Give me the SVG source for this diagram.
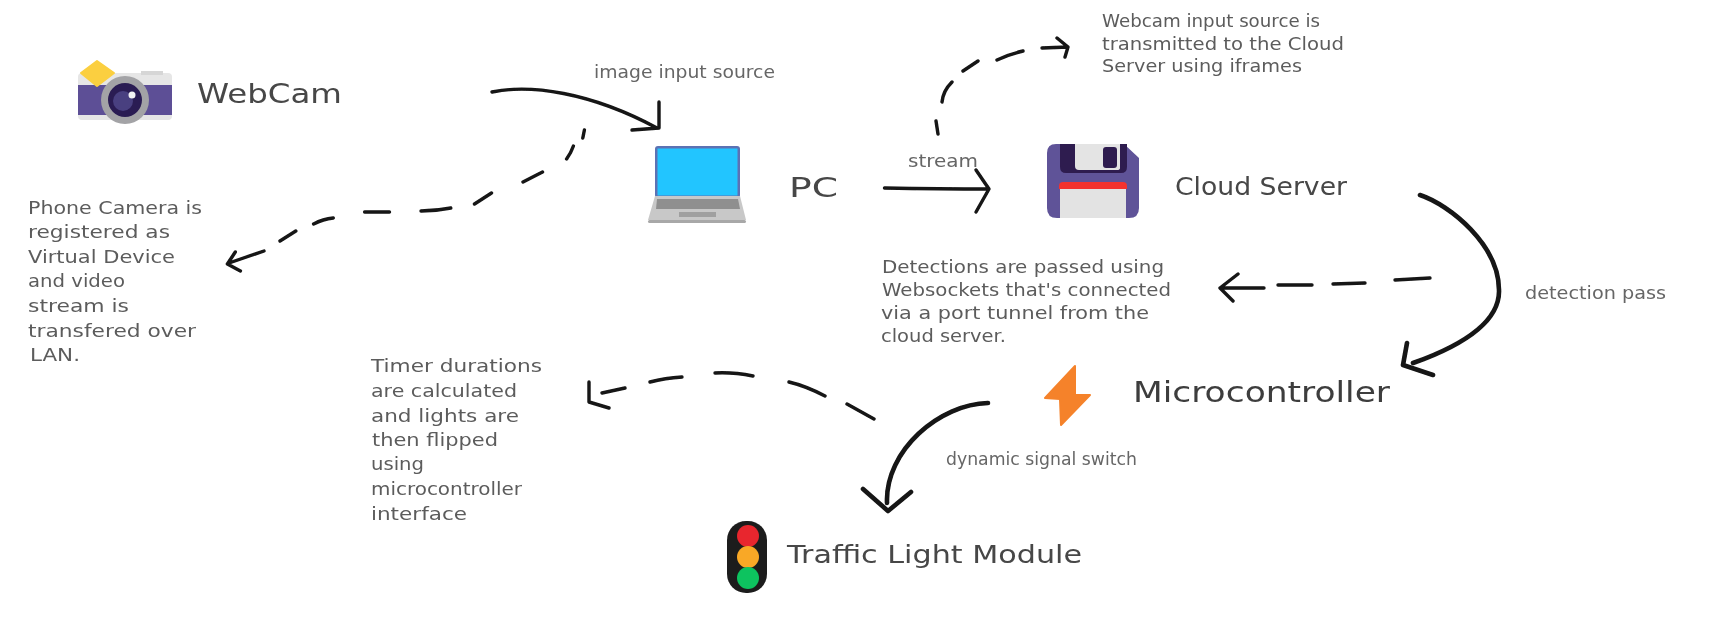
<svg xmlns="http://www.w3.org/2000/svg" width="1718" height="619" viewBox="0 0 1718 619">
<style>
text{font-family:"DejaVu Sans","Liberation Sans",sans-serif;font-weight:400}
.title{font-size:27px;fill:#474747}
.sub{font-size:17px;fill:#666}
.desc{font-size:18px;fill:#5c5c5c}
.solid,.dash{fill:none;stroke:#141414;stroke-linecap:round;stroke-linejoin:round}
.solid{stroke-width:3.4}
.heavy{stroke-width:4.6}
.dash{stroke-width:3.4}
.soft{filter:url(#b)}
</style>
<defs><filter id="b" x="-5%" y="-5%" width="110%" height="110%"><feGaussianBlur stdDeviation="0.55"/></filter></defs>
<rect width="1718" height="619" fill="#fff"/>
<g class="soft">
<g id="connectors">
<path id="c-webcam-pc" class="solid" d="M492 92C530 84 590 92 657 128M659 102L659 128L632 130"/>
<path id="c-phone" class="dash" d="M584.400 130L582.800 138M573.400 146Q571 153 566.600 159M542.500 172L523 182M491.500 193L474.500 204M450.800 208Q436 211 421 211M389.500 212L364.600 212M333.300 218Q323 219 313.600 224M295.800 231L280 241M264 251L229 263M235.300 252L227.400 264L240.400 271"/>
<path id="c-pc-cloud" class="solid" d="M884.500 188Q940 189 989 189M976 170L989 189L976 212"/>
<path id="c-iframes" class="dash" d="M938 134L936 121M942 102Q943 91 952 82M963 71L978 61M997 60Q1010 54 1023 51M1042 48L1068 47M1057 38L1068 47L1065 57"/>
<path id="c-detection" class="solid heavy" d="M1420 195C1450 205 1499 245 1499 290C1500 325 1455 348 1413 363M1407 343L1403 365L1433 375"/>
<path id="c-websocket" class="dash" d="M1430 278L1395 280M1365 283L1333 284M1312 285L1278 285M1264 288L1220 288M1238 274L1220 288L1233 301"/>
<path id="c-switch" class="solid heavy" d="M988 403C940 404 885 450 887 503M863 489L888 511L911 492"/>
<path id="c-timer" class="dash" d="M874 419L847 404M825 396Q806 386 789 382M753 376Q733 372 715 373M682 377Q665 378 650 382M625 388L602 393M589 382L589 402L609 408"/>
</g>
<g id="webcam">
<rect x="78" y="73" width="94" height="47" rx="4" fill="#e6e6e6"/>
<rect x="141" y="71" width="22" height="4" fill="#d6d6d6"/>
<rect x="78" y="85" width="94" height="30" fill="#5d5096"/>
<path d="M97 61L114 73L97 86L81 73Z" fill="#fbcf3f" stroke="#fbcf3f" stroke-width="2" stroke-linejoin="round"/>
<circle cx="125" cy="100" r="24" fill="#a3a3a6"/>
<circle cx="125" cy="100" r="17" fill="#2a1c52"/>
<circle cx="123" cy="101" r="10" fill="#483f80"/>
<circle cx="132" cy="95" r="3.500" fill="#f2f2f2"/>
<text class="title" x="197" y="103" textLength="145" lengthAdjust="spacingAndGlyphs">WebCam</text>
</g>
<g id="pc">
<rect x="655" y="146" width="85" height="52" rx="3" fill="#5b72b4"/>
<rect x="657.500" y="148.500" width="80" height="47" fill="#24c5ff"/>
<path d="M655 196H740L746 220H648Z" fill="#c8c8c8"/>
<rect x="648" y="220" width="98" height="3" rx="1.500" fill="#a8a8a8"/>
<path d="M657 199H738L740 209H656Z" fill="#8f8f8f"/>
<rect x="679" y="212" width="37" height="5" fill="#a0a0a0"/>
<text class="title" x="789" y="197" textLength="49" lengthAdjust="spacingAndGlyphs">PC</text>
</g>
<g id="cloud-server">
<path d="M1056 144H1124L1139 158V208Q1139 218 1129 218H1057Q1047 218 1047 208V153Q1047 144 1056 144Z" fill="#5f5398"/>
<path d="M1060 144H1127V167Q1127 173 1121 173H1066Q1060 173 1060 167Z" fill="#2f1d50"/>
<path d="M1075 144H1120V168Q1120 170 1117 170H1079Q1075 170 1075 166Z" fill="#e4e4e4"/>
<rect x="1103" y="147" width="14" height="21" rx="3" fill="#2f1d50"/>
<path d="M1059 189V186Q1059 182 1063 182H1123Q1127 182 1127 186V189Z" fill="#f3302f"/>
<rect x="1060" y="189" width="66" height="29" fill="#e3e3e3"/>
<text class="title" x="1175" y="195" style="font-size:25px" textLength="172" lengthAdjust="spacingAndGlyphs">Cloud Server</text>
</g>
<g id="microcontroller">
<path d="M1075 366L1045 398L1060 399L1061 425L1090 395L1075 395Z" fill="#f5822a" stroke="#f5822a" stroke-width="2" stroke-linejoin="round"/>
<text class="title" x="1133" y="402" style="font-size:29px;fill:#3e3e3e" textLength="257" lengthAdjust="spacingAndGlyphs">Microcontroller</text>
</g>
<g id="traffic-light">
<rect x="727" y="521" width="40" height="72" rx="19" fill="#1e1e1e"/>
<circle cx="748" cy="536" r="11" fill="#e8262d"/>
<circle cx="748" cy="557" r="11" fill="#f9a825"/>
<circle cx="748" cy="578" r="11" fill="#0cc35e"/>
<text class="title" x="787" y="563" style="font-size:25px" textLength="295" lengthAdjust="spacingAndGlyphs">Traffic Light Module</text>
</g>
<g id="labels">
<text class="sub" x="594" y="78" textLength="181" lengthAdjust="spacingAndGlyphs">image input source</text>
<text class="sub" x="908" y="167" textLength="70" lengthAdjust="spacingAndGlyphs">stream</text>
<text class="sub" x="1525" y="299" textLength="141" lengthAdjust="spacingAndGlyphs">detection pass</text>
<text class="sub" x="946" y="465" textLength="191" lengthAdjust="spacingAndGlyphs">dynamic signal switch</text>
</g>
<g id="note-iframes">
<text class="desc" x="1102" y="27" textLength="218" lengthAdjust="spacingAndGlyphs">Webcam input source is</text>
<text class="desc" x="1102" y="50" textLength="242" lengthAdjust="spacingAndGlyphs">transmitted to the Cloud</text>
<text class="desc" x="1102" y="72" textLength="200" lengthAdjust="spacingAndGlyphs">Server using iframes</text>
</g>
<g id="note-phone">
<text class="desc" x="28" y="214" textLength="174" lengthAdjust="spacingAndGlyphs">Phone Camera is</text>
<text class="desc" x="28" y="238" textLength="142" lengthAdjust="spacingAndGlyphs">registered as</text>
<text class="desc" x="28" y="263" textLength="147" lengthAdjust="spacingAndGlyphs">Virtual Device</text>
<text class="desc" x="28" y="287" textLength="97" lengthAdjust="spacingAndGlyphs">and video</text>
<text class="desc" x="28" y="312" textLength="101" lengthAdjust="spacingAndGlyphs">stream is</text>
<text class="desc" x="28" y="337" textLength="168" lengthAdjust="spacingAndGlyphs">transfered over</text>
<text class="desc" x="30" y="361" textLength="50" lengthAdjust="spacingAndGlyphs">LAN.</text>
</g>
<g id="note-detections">
<text class="desc" x="882" y="273" textLength="282" lengthAdjust="spacingAndGlyphs">Detections are passed using</text>
<text class="desc" x="882" y="296" textLength="289" lengthAdjust="spacingAndGlyphs">Websockets that's connected</text>
<text class="desc" x="881" y="319" textLength="268" lengthAdjust="spacingAndGlyphs">via a port tunnel from the</text>
<text class="desc" x="881" y="342" textLength="125" lengthAdjust="spacingAndGlyphs">cloud server.</text>
</g>
<g id="note-timer">
<text class="desc" x="371" y="372" textLength="171" lengthAdjust="spacingAndGlyphs">Timer durations</text>
<text class="desc" x="371" y="397" textLength="146" lengthAdjust="spacingAndGlyphs">are calculated</text>
<text class="desc" x="371" y="422" textLength="148" lengthAdjust="spacingAndGlyphs">and lights are</text>
<text class="desc" x="372" y="446" textLength="126" lengthAdjust="spacingAndGlyphs">then flipped</text>
<text class="desc" x="371" y="470" textLength="53" lengthAdjust="spacingAndGlyphs">using</text>
<text class="desc" x="371" y="495" textLength="151" lengthAdjust="spacingAndGlyphs">microcontroller</text>
<text class="desc" x="371" y="520" textLength="96" lengthAdjust="spacingAndGlyphs">interface</text>
</g>
</g>
</svg>
